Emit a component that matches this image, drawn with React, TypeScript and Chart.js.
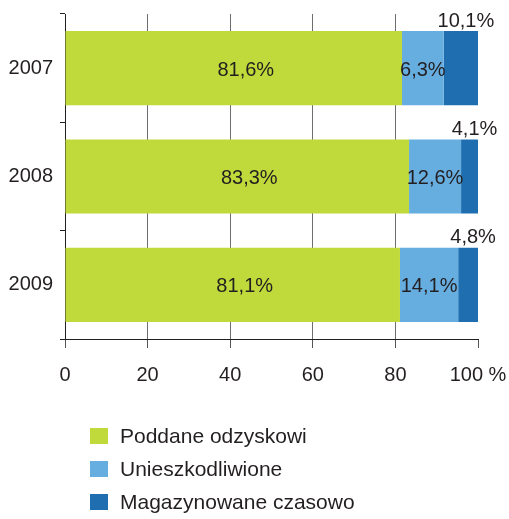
import React, { useEffect, useRef } from "react";
import { Chart, registerables } from "chart.js";

Chart.register(...registerables);

const categories = ["2007", "2008", "2009"];
const seriesNames = ["Poddane odzyskowi", "Unieszkodliwione", "Magazynowane czasowo"];
const recovered = [81.6, 83.3, 81.1];
const neutralized = [10.1, 12.6, 14.1];
const stored = [8.3, 4.1, 4.8];
const recoveredLabels = ["81,6%", "83,3%", "81,1%"];
const neutralizedLabels = ["6,3%", "12,6%", "14,1%"];
const storedLabels = ["10,1%", "4,1%", "4,8%"];
const xTicks = [0, 20, 40, 60, 80, 100];
const colors = ["#bfda3a", "#66ade0", "#1f6fb0"];

const FONT = "'Liberation Sans', Arial, Helvetica, sans-serif";
const TEXT = "#231f20";

const barLabelPlugin = {
  id: "barLabels",
  afterDatasetsDraw(chart: any) {
    const ctx = chart.ctx;
    ctx.save();
    ctx.font = `20px ${FONT}`;
    ctx.fillStyle = TEXT;
    ctx.textAlign = "center";
    ctx.textBaseline = "middle";
    const sets = [recoveredLabels, neutralizedLabels, storedLabels];
    chart.data.datasets.forEach((_: any, di: number) => {
      const meta = chart.getDatasetMeta(di);
      meta.data.forEach((el: any, i: number) => {
        const p = el.getProps(["x", "y", "base", "height"], true);
        const cx = (p.x + p.base) / 2;
        const txt = sets[di][i];
        if (di === 0) {
          ctx.fillText(txt, cx + 12, p.y + 2);
        } else if (di === 1) {
          ctx.fillText(txt, cx, p.y + 2);
        } else {
          ctx.fillText(txt, cx + 5, p.y - p.height / 2 - 10);
        }
      });
    });
    ctx.restore();
  },
};

export default function App() {
  const ref = useRef<HTMLCanvasElement | null>(null);

  useEffect(() => {
    document.body.style.margin = "0";
    const canvas = ref.current;
    if (!canvas) return;
    const chart = new Chart(canvas, {
      type: "bar",
      data: {
        labels: categories,
        datasets: [recovered, neutralized, stored].map((d, i) => ({
          label: seriesNames[i],
          data: d,
          backgroundColor: colors[i],
          borderWidth: 0,
          barPercentage: 0.685,
          categoryPercentage: 1,
        })),
      },
      options: {
        indexAxis: "y",
        animation: false,
        responsive: false,
        devicePixelRatio: 1,
        layout: { padding: { left: 0, right: 31, top: 14, bottom: 0 } },
        plugins: {
          legend: { display: false },
          tooltip: { enabled: false },
        },
        scales: {
          x: {
            stacked: true,
            min: 0,
            max: 100,
            afterFit: (s: any) => {
              s.height = 180;
              s.paddingLeft = 0;
              s.paddingRight = 0;
            },
            afterBuildTicks: (s: any) => {
              s.ticks = xTicks.map((v) => ({ value: v }));
            },
            border: { color: TEXT, width: 1 },
            grid: {
              color: (c: any) => (c.tick && c.tick.value === 100 ? "rgba(0,0,0,0)" : "#6d6e71"),
              tickColor: "#555",
              tickLength: 9,
              lineWidth: 1,
            },
            ticks: {
              color: TEXT,
              font: { family: FONT, size: 20 },
              padding: 15,
              callback: (v: any) => (v === 100 ? "100 %" : String(v)),
            },
          },
          y: {
            stacked: true,
            offset: true,
            z: 1,
            afterFit: (s: any) => {
              s.width = 65;
              s.paddingTop = 0;
              s.paddingBottom = 0;
            },
            border: { color: TEXT, width: 1 },
            grid: {
              offset: true,
              drawOnChartArea: false,
              tickLength: 5,
              color: TEXT,
            },
            ticks: {
              color: TEXT,
              font: { family: FONT, size: 20 },
              padding: 7,
            },
          },
        },
      },
      plugins: [barLabelPlugin],
    } as any);
    return () => chart.destroy();
  }, []);

  const rowTops = [428, 461, 494];

  return (
    <div style={{ position: "relative", width: 509, height: 519, overflow: "hidden", fontFamily: FONT }}>
      <canvas ref={ref} width={509} height={519} style={{ position: "absolute", left: 0, top: 0 }} />
      {seriesNames.map((name, i) => (
        <div
          key={name}
          style={{
            position: "absolute",
            left: 90,
            top: rowTops[i],
            height: 16,
            display: "flex",
            alignItems: "center",
            whiteSpace: "nowrap",
          }}
        >
          <span style={{ display: "inline-block", width: 18, height: 16, background: colors[i], marginRight: 12 }} />
          <span style={{ fontSize: 21, color: TEXT, lineHeight: "16px" }}>{name}</span>
        </div>
      ))}
    </div>
  );
}
